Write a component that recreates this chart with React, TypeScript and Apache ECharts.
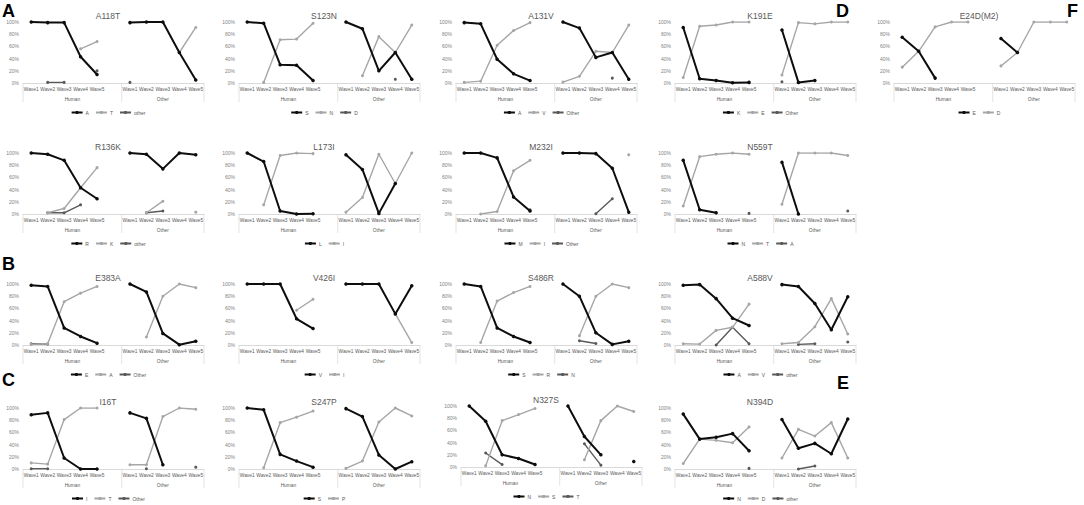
import React, { useEffect, useRef } from "react";
import * as echarts from "echarts";

const FONT = "Liberation Sans, Arial, sans-serif";
const waves = ["Wave1", "Wave2", "Wave3", "Wave4", "Wave5", "", "Wave1", "Wave2", "Wave3", "Wave4", "Wave5"];
const groups = ["Human", "Other"];
const yTicksMax = 100;
const _ = null;

// values in percent, 11 slots: Human W1..W5, gap, Other W1..W5
const A118T_A = [100, 99, 99, 43, 14, _, 99, 100, 100, 50, 5];
const A118T_T = [_, _, _, 56, 68, _, _, _, _, 50, 91];
const A118T_other = [_, 1, 1, _, 20, _, 1, _, _, _, _];

const S123N_S = [100, 98, 30, 29, 4, _, 100, 89, 20, 50, 6];
const S123N_N = [_, 1, 71, 72, 98, _, _, 12, 76, 50, 95];
const S123N_D = [_, _, _, _, _, _, _, _, _, 6, _];

const A131V_A = [99, 97, 39, 15, 4, _, 100, 90, 42, 50, 6];
const A131V_V = [1, 3, 62, 86, 99, _, 1.5, 11, 52, 50, 95];
const A131V_Other = [_, _, _, _, _, _, _, _, _, 8, _];

const K191E_K = [91, 7, 4, 0.5, 1, _, 87, 1, 4, _, _];
const K191E_E = [9, 93, 95, 100, 100, _, 13, 99, 97, 100, 100];
const K191E_Other = [_, _, _, _, _, _, 2, _, _, _, _];

const E24D_E = [75, 52, 8, _, _, _, 73, 50, _, _, _];
const E24D_D = [26, 52, 92, 100, 100, _, 28, 50, 100, 100, 100];

const R136K_R = [100, 98, 88, 43, 25, _, 100, 98, 74, 100, 97];
const R136K_K = [_, 2, 9, 43, 76, _, _, 2, 21, _, 3];
const R136K_other = [_, 2, 2, 15, _, _, _, 2, 5, _, _];

const L173I_L = [100, 86, 5, 0, 0.5, _, 97, 73, 1, 50, _];
const L173I_I = [_, 15, 96, 100, 99, _, 3, 27, 98, 50, 100];

const M232I_M = [100, 100, 92, 28, 5, _, 100, 100, 99, 75, 3];
const M232I_I = [_, 0, 4, 71, 88, _, _, _, _, _, 97];
const M232I_Other = [_, _, _, _, 7, _, _, _, 0.5, 25, _];

const N559T_N = [88, 7, 2, _, _, _, 85, 0, _, _, _];
const N559T_T = [13, 94, 98, 100, 98, _, 16, 100, 100, 100, 96];
const N559T_A = [_, _, _, _, 1, _, _, _, _, _, 5];

const E383A_E = [98, 96, 28, 14, 3, _, 100, 87, 19, 0.5, 6];
const E383A_A = [1, 2, 71, 85, 96, _, _, 13, 80, 100, 94];
const E383A_Other = [2, 1.5, _, _, _, _, _, _, _, _, _];

const V426I_V = [100, 100, 100, 43, 27, _, 100, 100, 100, 51, 97];
const V426I_I = [_, _, _, 57, 75, _, _, _, _, 51, 4];

const S486R_S = [100, 96, 28, 14, 4, _, 100, 80, 20, 1, 6];
const S486R_R = [_, 4, 72, 86, 96, _, _, 15, 80, 100, 94];
const S486R_N = [_, _, _, _, _, _, _, 7, 2.5, _, _];

const A588V_A = [98, 99, 76, 44, 32, _, 99, 96, 68, 25, 79];
const A588V_V = [2, 1.5, 24, 29, 67, _, 2, 4, 30, 76, 18];
const A588V_other = [_, _, 0, 29, 2, _, _, 1, 2, _, 5];

const I16T_I = [89, 92, 18, 0, 0, _, 92, 83, 7, _, _];
const I16T_T = [10, 8, 81, 100, 100, _, 7, 7, 86, 100, 98];
const I16T_Other = [0.5, 0.5, _, _, _, _, _, 0.5, _, _, 3];

const S247P_S = [100, 97, 24, 13, 3, _, 99, 86, 23, 0, 12];
const S247P_P = [_, 2, 76, 85, 95, _, 1, 13, 77, 100, 87];

const N327S_N = [100, 75, 20, 14, 4, _, 100, 50, 20, _, 9];
const N327S_S = [_, 2, 76, 86, 96, _, _, 12, 76, 100, 91];
const N327S_T = [_, 23, 4, _, _, _, _, 38, 3, _, _];

const N394D_N = [90, 49, 52, 58, 30, _, 81, 34, 42, 25, 82];
const N394D_D = [9, 49, 47, 43, 69, _, 18, 65, 54, 76, 18];
const N394D_other = [_, _, _, _, 1, _, _, 0, 5, _, _];

type PanelDef = { title: string; x: number; y: number; names: string[]; data: (number | null)[][] };

const panels: PanelDef[] = [
  { title: "A118T", x: 0, y: 0, names: ["A", "T", "other"], data: [A118T_A, A118T_T, A118T_other] },
  { title: "S123N", x: 216, y: 0, names: ["S", "N", "D"], data: [S123N_S, S123N_N, S123N_D] },
  { title: "A131V", x: 433, y: 0, names: ["A", "V", "Other"], data: [A131V_A, A131V_V, A131V_Other] },
  { title: "K191E", x: 652, y: 0, names: ["K", "E", "Other"], data: [K191E_K, K191E_E, K191E_Other] },
  { title: "E24D(M2)", x: 871, y: 0, names: ["E", "D"], data: [E24D_E, E24D_D] },
  { title: "R136K", x: 0, y: 130.5, names: ["R", "K", "other"], data: [R136K_R, R136K_K, R136K_other] },
  { title: "L173I", x: 216, y: 130.5, names: ["L", "I"], data: [L173I_L, L173I_I] },
  { title: "M232I", x: 433, y: 130.5, names: ["M", "I", "Other"], data: [M232I_M, M232I_I, M232I_Other] },
  { title: "N559T", x: 652, y: 130.5, names: ["N", "T", "A"], data: [N559T_N, N559T_T, N559T_A] },
  { title: "E383A", x: 0, y: 262, names: ["E", "A", "Other"], data: [E383A_E, E383A_A, E383A_Other] },
  { title: "V426I", x: 216, y: 262, names: ["V", "I"], data: [V426I_V, V426I_I] },
  { title: "S486R", x: 433, y: 262, names: ["S", "R", "N"], data: [S486R_S, S486R_R, S486R_N] },
  { title: "A588V", x: 652, y: 262, names: ["A", "V", "other"], data: [A588V_A, A588V_V, A588V_other] },
  { title: "I16T", x: 0, y: 386, names: ["I", "T", "Other"], data: [I16T_I, I16T_T, I16T_Other] },
  { title: "S247P", x: 216, y: 386, names: ["S", "P"], data: [S247P_S, S247P_P] },
  { title: "N327S", x: 438, y: 384, names: ["N", "S", "T"], data: [N327S_N, N327S_S, N327S_T] },
  { title: "N394D", x: 652, y: 386, names: ["N", "D", "other"], data: [N394D_N, N394D_D, N394D_other] },
];

const letters = [
  { t: "A", x: 2, y: 2 },
  { t: "B", x: 2, y: 255 },
  { t: "C", x: 2, y: 371 },
  { t: "D", x: 836, y: 2 },
  { t: "E", x: 837, y: 374 },
  { t: "F", x: 1067, y: 2 },
];

const COLORS = ["#0d0d0d", "#a6a6a6", "#595959"];
const WIDTHS = [2, 1.4, 1.4];

const PW = 216;
const PH = 120;
const GL = 23;
const GT = 22;
const GW = 181;
const GH = 61;

function Panel({ p }: { p: PanelDef }) {
  const ref = useRef<HTMLDivElement>(null);
  useEffect(() => {
    if (!ref.current) return;
    const chart = echarts.init(ref.current, undefined, { renderer: "svg" });
    const step = GW / waves.length;
    const sepX = [GL, GL + 6 * step, GL + GW];
    const centers = [GL + 3 * step, GL + 8.5 * step];
    chart.setOption({
      animation: false,
      textStyle: { fontFamily: FONT },
      title: {
        text: p.title,
        left: "center",
        top: 6,
        textStyle: { fontSize: 8.5, fontWeight: "normal", color: "#595959", fontFamily: FONT },
      },
      legend: {
        top: 105,
        left: "center",
        itemWidth: 11,
        itemHeight: 4,
        itemGap: 6,
        data: p.names,
        textStyle: { fontSize: 5, color: "#595959", fontFamily: FONT, padding: [0, 0, 0, -2] },
      },
      grid: { left: GL, top: GT, width: GW, height: GH },
      xAxis: {
        type: "category",
        data: waves,
        boundaryGap: true,
        axisLine: { show: true, lineStyle: { color: "#d9d9d9", width: 1 } },
        axisTick: { show: false },
        axisLabel: { interval: 0, fontSize: 4.8, color: "#595959", margin: 4, fontFamily: FONT },
        splitLine: { show: false },
      },
      yAxis: {
        type: "value",
        min: 0,
        max: yTicksMax,
        interval: 20,
        axisLine: { show: false },
        axisTick: { show: false },
        splitLine: { show: false },
        axisLabel: { formatter: "{value}%", fontSize: 5, color: "#7f7f7f", margin: 4, fontFamily: FONT },
      },
      graphic: [
        ...sepX.map((x) => ({
          type: "line",
          shape: { x1: x, y1: GT + GH, x2: x, y2: GT + GH + 19 },
          style: { stroke: "#e3e3e3", lineWidth: 1 },
          silent: true,
        })),
        ...groups.map((g, i) => ({
          type: "text",
          x: centers[i],
          y: GT + GH + 16,
          style: {
            text: g,
            align: "center",
            verticalAlign: "middle",
            fontSize: 4.8,
            fill: "#595959",
            fontFamily: FONT,
          },
          silent: true,
        })),
      ],
      series: p.data.map((d, i) => ({
        name: p.names[i],
        type: "line",
        data: d,
        connectNulls: false,
        symbol: "circle",
        symbolSize: i === 0 ? 3.5 : 3,
        showAllSymbol: true,
        lineStyle: { color: COLORS[i], width: WIDTHS[i] },
        itemStyle: { color: COLORS[i] },
        z: 3 - i,
      })),
    });
    return () => chart.dispose();
  }, [p]);
  return (
    <div
      ref={ref}
      style={{ position: "absolute", left: p.x, top: p.y, width: PW, height: PH, zIndex: 2 }}
    />
  );
}

function Letters() {
  const ref = useRef<HTMLDivElement>(null);
  useEffect(() => {
    if (!ref.current) return;
    const chart = echarts.init(ref.current, undefined, { renderer: "svg" });
    chart.setOption({
      animation: false,
      graphic: letters.map((l) => ({
        type: "text",
        x: l.x,
        y: l.y,
        style: {
          text: l.t,
          fontSize: 18,
          fontWeight: "bold",
          fill: "#000",
          fontFamily: FONT,
          verticalAlign: "top",
        },
      })),
    });
    return () => chart.dispose();
  }, []);
  return <div ref={ref} style={{ position: "absolute", left: 0, top: 0, width: 1084, height: 505, zIndex: 1 }} />;
}

export default function App() {
  return (
    <div
      style={{
        position: "fixed",
        left: 0,
        top: 0,
        width: 1084,
        height: 505,
        background: "#ffffff",
        overflow: "hidden",
      }}
    >
      <Letters />
      {panels.map((p) => (
        <Panel key={p.title} p={p} />
      ))}
    </div>
  );
}
